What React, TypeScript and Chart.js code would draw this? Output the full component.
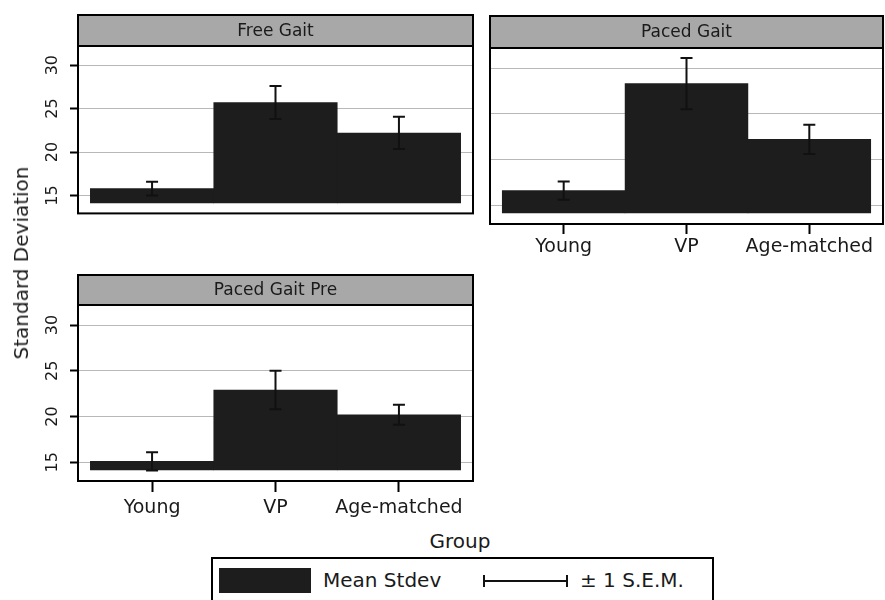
import React, { useEffect, useRef } from "react";
import { Chart, registerables } from "chart.js";

Chart.register(...registerables);

// Groups along the x axis
const groups = ["Young", "VP", "Age-matched"];

// Mean standard deviation and its S.E.M. per condition
const freeGaitMean = [15.8, 25.7, 22.2];
const freeGaitSem = [0.8, 1.9, 1.85];
const pacedGaitMean = [16.6, 28.3, 22.2];
const pacedGaitSem = [1.0, 2.8, 1.6];
const pacedGaitPreMean = [15.1, 22.9, 20.2];
const pacedGaitPreSem = [1.0, 2.1, 1.1];

// Shared value axis
const yTicks = [15, 20, 25, 30];
const yMin = 12.95;
const yMax = 32.2;
const barBase = 14.15;

const FONT = "'DejaVu Sans', Verdana, sans-serif";
const INK = "#1a1a1a";

type PanelProps = {
  title: string;
  means: number[];
  sems: number[];
  left: number;
  top: number;
  width: number;
  height: number;
  padding: { top: number; right: number; bottom: number; left: number };
  yAxisWidth: number;
  showYLabels: boolean;
  showXAxis: boolean;
  xAxisHeight: number;
  xTickLength: number;
  xTickPadding: number;
  headerHeight: number;
};

function Panel(p: PanelProps) {
  const ref = useRef<HTMLCanvasElement | null>(null);

  useEffect(() => {
    if (!ref.current) return;

    const decor = {
      id: "panelDecor",
      afterDatasetsDraw(chart: any) {
        const ctx = chart.ctx;
        const meta = chart.getDatasetMeta(0);
        const ys = chart.scales.y;
        ctx.save();
        ctx.strokeStyle = "#111";
        ctx.lineWidth = 2;
        meta.data.forEach((bar: any, i: number) => {
          const m = p.means[i];
          const s = p.sems[i];
          const x = bar.x;
          const yt = ys.getPixelForValue(m + s);
          const yb = ys.getPixelForValue(m - s);
          ctx.beginPath();
          ctx.moveTo(x, yt);
          ctx.lineTo(x, yb);
          ctx.moveTo(x - 6, yt);
          ctx.lineTo(x + 6, yt);
          ctx.moveTo(x - 6, yb);
          ctx.lineTo(x + 6, yb);
          ctx.stroke();
        });
        ctx.restore();
      },
      afterDraw(chart: any) {
        const { ctx, chartArea: a } = chart;
        const hTop = a.top - p.headerHeight;
        ctx.save();
        ctx.fillStyle = "#a8a8a8";
        ctx.fillRect(a.left, hTop, a.right - a.left, p.headerHeight);
        ctx.strokeStyle = "#000";
        ctx.lineWidth = 2;
        ctx.strokeRect(a.left, hTop, a.right - a.left, a.bottom - hTop);
        ctx.beginPath();
        ctx.moveTo(a.left, a.top);
        ctx.lineTo(a.right, a.top);
        ctx.stroke();
        ctx.fillStyle = INK;
        ctx.font = `17px ${FONT}`;
        ctx.textAlign = "center";
        ctx.textBaseline = "middle";
        ctx.fillText(p.title, (a.left + a.right) / 2, hTop + p.headerHeight / 2 + 1);
        ctx.restore();
      },
    };

    const chart = new Chart(ref.current, {
      type: "bar",
      data: {
        datasets: [
          {
            data: p.means.map((m, i) => ({ x: i, y: m })),
            base: barBase,
            backgroundColor: "#1d1d1d",
            borderWidth: 0,
            barPercentage: 1,
            categoryPercentage: 1,
          } as any,
        ],
      },
      options: {
        animation: false,
        responsive: false,
        maintainAspectRatio: false,
        layout: { padding: p.padding },
        plugins: {
          legend: { display: false },
          title: { display: false },
          tooltip: { enabled: false },
        },
        scales: {
          x: {
            type: "linear",
            min: -0.6,
            max: 2.6,
            offset: false,
            display: p.showXAxis,
            afterBuildTicks: (s: any) => {
              s.ticks = groups.map((_, i) => ({ value: i }));
            },
            afterFit: (s: any) => {
              s.height = p.xAxisHeight;
            },
            ticks: {
              autoSkip: false,
              maxRotation: 0,
              padding: p.xTickPadding,
              color: INK,
              font: { family: FONT, size: 19 },
              callback: (v: any) => groups[Math.round(Number(v))] ?? "",
            },
            grid: {
              offset: false,
              drawOnChartArea: false,
              drawTicks: true,
              tickLength: p.xTickLength,
              tickColor: "#000",
              tickWidth: 2,
            },
            border: { display: false },
          },
          y: {
            type: "linear",
            min: yMin,
            max: yMax,
            afterBuildTicks: (s: any) => {
              s.ticks = yTicks.map((v) => ({ value: v }));
            },
            afterFit: (s: any) => {
              s.width = p.yAxisWidth;
            },
            ticks: {
              display: p.showYLabels,
              minRotation: 90,
              maxRotation: 90,
              crossAlign: "center",
              padding: 7,
              color: INK,
              font: { family: FONT, size: 16 },
            },
            grid: {
              color: "#b8b8b8",
              lineWidth: 1,
              drawTicks: p.showYLabels,
              tickLength: 8,
              tickColor: "#000",
              tickWidth: 2,
            },
            border: { display: false },
          },
        },
      } as any,
      plugins: [decor],
    });

    return () => chart.destroy();
  }, []);

  return (
    <canvas
      ref={ref}
      width={p.width}
      height={p.height}
      style={{ position: "absolute", left: p.left, top: p.top, width: p.width, height: p.height }}
    />
  );
}

export default function App() {
  return (
    <div
      style={{
        position: "absolute",
        left: 0,
        top: 0,
        width: 885,
        height: 600,
        overflow: "hidden",
        background: "#fff",
        fontFamily: FONT,
        color: INK,
      }}
    >
      <Panel
        title="Free Gait"
        means={freeGaitMean}
        sems={freeGaitSem}
        left={0}
        top={0}
        width={480}
        height={230}
        padding={{ top: 46, right: 7, bottom: 8, left: 0 }}
        yAxisWidth={78}
        showYLabels={true}
        showXAxis={false}
        xAxisHeight={0}
        xTickLength={10}
        xTickPadding={4}
        headerHeight={31}
      />
      <Panel
        title="Paced Gait"
        means={pacedGaitMean}
        sems={pacedGaitSem}
        left={480}
        top={0}
        width={405}
        height={264}
        padding={{ top: 48, right: 2, bottom: 0, left: 10 }}
        yAxisWidth={0}
        showYLabels={false}
        showXAxis={true}
        xAxisHeight={40}
        xTickLength={10}
        xTickPadding={2}
        headerHeight={32}
      />
      <Panel
        title="Paced Gait Pre"
        means={pacedGaitPreMean}
        sems={pacedGaitPreSem}
        left={0}
        top={260}
        width={480}
        height={261}
        padding={{ top: 45, right: 7, bottom: 0, left: 0 }}
        yAxisWidth={78}
        showYLabels={true}
        showXAxis={true}
        xAxisHeight={40}
        xTickLength={11}
        xTickPadding={5}
        headerHeight={30}
      />

      {/* shared value-axis title */}
      <div
        style={{
          position: "absolute",
          left: 21,
          top: 263,
          transform: "translate(-50%, -50%) rotate(-90deg)",
          fontSize: 20,
          lineHeight: "20px",
          whiteSpace: "nowrap",
        }}
      >
        Standard Deviation
      </div>

      {/* shared category-axis title */}
      <div
        style={{
          position: "absolute",
          left: 460,
          top: 541,
          transform: "translate(-50%, -50%)",
          fontSize: 20,
          lineHeight: "20px",
          whiteSpace: "nowrap",
        }}
      >
        Group
      </div>

      {/* legend */}
      <div
        style={{
          position: "absolute",
          left: 211,
          top: 557,
          width: 503,
          height: 70,
          border: "2px solid #000",
          boxSizing: "border-box",
        }}
      />
      <div
        style={{ position: "absolute", left: 219, top: 568, width: 92, height: 25, background: "#1d1d1d" }}
      />
      <div
        style={{
          position: "absolute",
          left: 323,
          top: 570,
          fontSize: 20,
          lineHeight: "20px",
          whiteSpace: "nowrap",
        }}
      >
        Mean Stdev
      </div>
      <div style={{ position: "absolute", left: 483, top: 580, width: 85, height: 2, background: "#111" }} />
      <div style={{ position: "absolute", left: 483, top: 575, width: 2, height: 12, background: "#111" }} />
      <div style={{ position: "absolute", left: 566, top: 575, width: 2, height: 12, background: "#111" }} />
      <div
        style={{
          position: "absolute",
          left: 580,
          top: 570,
          fontSize: 20,
          lineHeight: "20px",
          whiteSpace: "nowrap",
        }}
      >
        ± 1 S.E.M.
      </div>
    </div>
  );
}
